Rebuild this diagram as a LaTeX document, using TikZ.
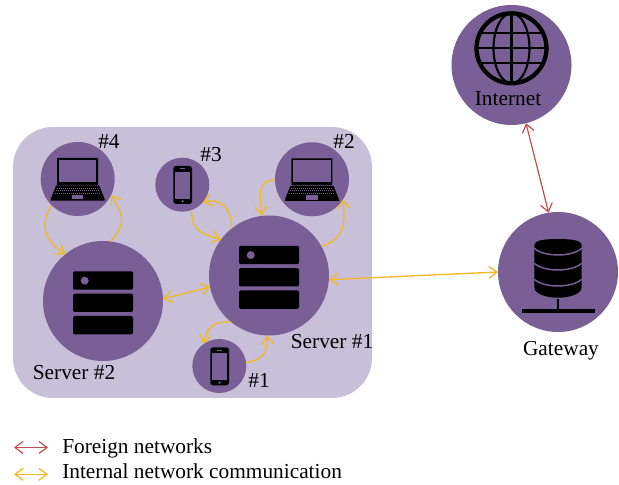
\documentclass[tikz,border=0pt]{standalone}
\usepackage{fontspec}
\setmainfont{Liberation Serif}
\usetikzlibrary{arrows.meta}
\definecolor{hubcol}{HTML}{7A5F96}
\definecolor{panelcol}{HTML}{C8BFD9}
\definecolor{intcol}{HTML}{F5B921}
\definecolor{forcol}{HTML}{C0504D}
\tikzset{
  hub/.style={circle,fill=hubcol,inner sep=0pt,outer sep=0pt},
  bighub/.style={hub,minimum size=90pt},
  midhub/.style={hub,minimum size=55.5pt},
  smallhub/.style={hub,minimum size=40.5pt},
  lab/.style={anchor=base,inner sep=0pt},
  intlink/.style={intcol,line width=1pt,<->},
  intone/.style={intcol,line width=1pt,->,looseness=1.25},
  forlink/.style={forcol,line width=.9pt,<->},
  pics/servericon/.style={code={
    \foreach \yb in {11.4,-11,-33.3}
      \fill[black,rounded corners=1pt] (-30,\yb) rectangle (30,\yb+18.3);
    \fill[hubcol] (-18.3,20.4) circle (4);
  }},
  pics/laptopicon/.style={code={
    \fill[black,rounded corners=.5pt] (-20.7,-6) rectangle (20.3,21);
    \fill[hubcol] (-19,-3) rectangle (18.6,19.2);
    \fill[black] (-21.5,-6.5)--(21.5,-6.5)--(27,-20)--(27,-21.7)--(-27,-21.7)--(-27,-20)--cycle;
    \foreach \yk/\xk in {-9/21,-11.5/22,-14/23}
      \draw[hubcol,line width=.5pt,dash pattern=on .8pt off .7pt] (-\xk,\yk)--(\xk,\yk);
    \fill[hubcol] (-6,-16) rectangle (5.6,-20.3);
  }},
  pics/phoneicon/.style={code={
    \fill[black,rounded corners=2pt] (-9,-19.3) rectangle (9.7,18.7);
    \fill[hubcol] (-7.2,-14) rectangle (7.8,13);
    \fill[hubcol] (.3,-16.6) circle (1.3);
    \draw[hubcol,line width=.4pt] (-2,16)--(2.6,16);
  }},
  pics/globeicon/.style={code={
    \draw[black,line width=3.2pt] (0,0) circle (35);
    \draw[black,line width=1.6pt] (0,0) ellipse (18 and 35);
    \draw[black,line width=1.6pt] (0,-35)--(0,35);
    \draw[black,line width=1.6pt] (-35,0)--(35,0);
    \draw[black,line width=1.6pt] (-31.6,15)--(31.6,15);
    \draw[black,line width=1.6pt] (-31.6,-15)--(31.6,-15);
  }},
  pics/dbicon/.style={code={
    \fill[black] (-23.7,27)..controls (-23.7,31.5) and (-14,33)..(0,33)
      ..controls (14,33) and (23.7,31.5)..(23.7,27)
      --(23.7,-15)..controls (23.7,-22) and (12,-25.7)..(0,-25.7)
      ..controls (-12,-25.7) and (-23.7,-22)..(-23.7,-15)--cycle;
    \foreach \ya in {17,2,-14}
      \draw[hubcol,line width=1.1pt] (-23.7,\ya+6.7)..controls (-14,\ya-2.2) and (14,\ya-2.2)..(23.7,\ya+6.7);
    \draw[black,line width=2.2pt] (0,-27)--(0,-38);
    \draw[black,line width=2.5pt] (-36,-39)--(37,-39);
  }},
}
\begin{document}
\begin{tikzpicture}[x=.75pt,y=.75pt,>={Straight Barb[length=6pt,width=9pt]},font=\fontsize{16}{18}\selectfont]
    \useasboundingbox (0,0) rectangle (619,485);
    \fill[panelcol,rounded corners=30pt] (13,87) rectangle (372,358);
    % hubs
    \node[bighub] (nInternet) at (511.5,420) {};
    \node[bighub] (nGateway) at (558,213) {};
    \node[bighub] (nServerA) at (269,209.5) {};
    \node[bighub] (nServerB) at (103,184) {};
    \node[midhub] (nLaptopB) at (77.7,306) {};
    \node[midhub] (nLaptopA) at (312,305.7) {};
    \node[smallhub] (nPhoneB) at (182.3,300.3) {};
    \node[smallhub] (nPhoneA) at (219.3,119) {};
    % icons
    \pic at (511.5,436.7) {globeicon};
    \pic at (558,213) {dbicon};
    \pic at (269,209.5) {servericon};
    \pic at (103,184) {servericon};
    \pic at (77.7,306) {laptopicon};
    \pic at (312,305.7) {laptopicon};
    \pic at (182.3,300.3) {phoneicon};
    \pic at (219.3,119) {phoneicon};
    % labels
    \node[lab] (tInternet) at (508,379) {Internet};
    \node[lab] (tGateway) at (561,129) {Gateway};
    \node[lab] (tServerA) at (332,136) {Server \#1};
    \node[lab] (tServerB) at (74,105) {Server \#2};
    \node[lab] (tOne) at (259,97.7) {\#1};
    \node[lab] (tTwo) at (344,336.7) {\#2};
    \node[lab] (tThree) at (211,323.3) {\#3};
    \node[lab] (tFour) at (109,336) {\#4};
    % links
    \draw[forlink] (nInternet.-76.4)--(nGateway.99);
    \draw[intlink] (nServerA.-4)--(nGateway.180);
    \draw[intlink] (nServerB.2.5)--(nServerA.-169.6);
    \draw[intone] (nLaptopB.-135) to[out=240,in=145] (nServerB.129.6);
    \draw[intone] (nServerB.83) to[out=45,in=-55] (nLaptopB.-26.6);
    \draw[intone] (nPhoneB.-70.8) to[out=-90,in=165] (nServerA.143.5);
    \draw[intone] (nServerA.129.5) to[out=85,in=15] (nPhoneB.-41.6);
    \draw[intone] (nLaptopA.181) to[out=180,in=95] (nServerA.97.8);
    \draw[intone] (nServerA.29.3) to[out=20,in=-85] (nLaptopA.-33.8);
    \draw[intone] (nServerA.-129.6) to[out=175,in=80] (nPhoneA.125.3);
    \draw[intone] (nPhoneA.8.5) to[out=5,in=-85] (nServerA.-92);
    % legend
    \coordinate (lgFa) at (14,37.5);
    \coordinate (lgFb) at (48,37.5);
    \coordinate (lgIa) at (14,10.7);
    \coordinate (lgIb) at (48,10.7);
    \draw[forlink] (lgFa)--(lgFb);
    \draw[intlink] (lgIa)--(lgIb);
    \node[anchor=base west,inner sep=0pt] (tForeign) at (62,31.7) {Foreign networks};
    \node[anchor=base west,inner sep=0pt] (tInternal) at (62,6.7) {Internal network communication};
\end{tikzpicture}
\end{document}
